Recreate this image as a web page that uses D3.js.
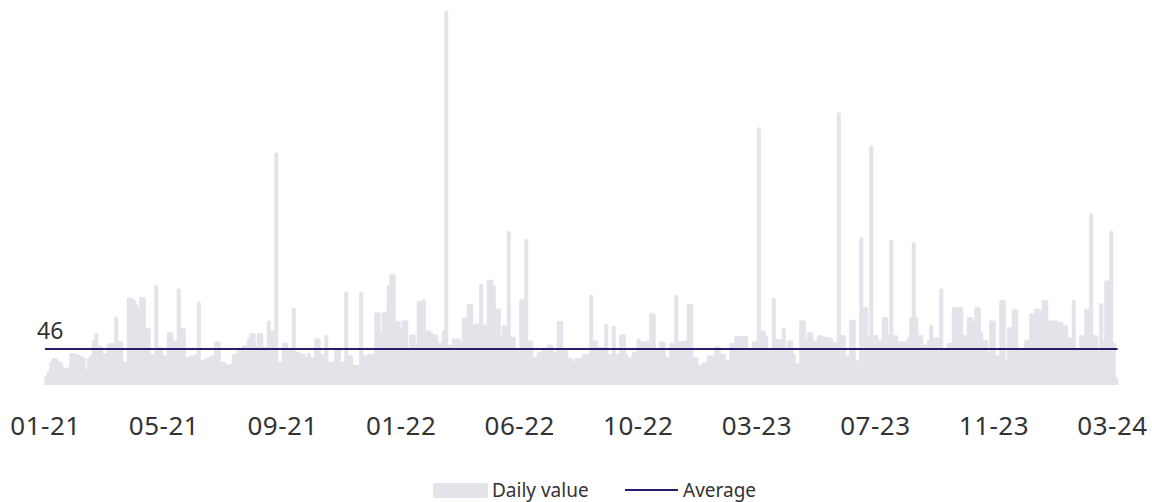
<!DOCTYPE html>
<html lang="en">
<head>
    <meta charset="UTF-8">
    <script src="https://cdnjs.cloudflare.com/ajax/libs/d3/7.8.5/d3.min.js"></script>
    <style>
        body { margin: 0; background: #fff; }
        text { font-family: "Noto Sans", sans-serif; fill: #333; }
    </style>
</head>
<body>
<div id="chart"></div>

<script>
    // daily values, one bar each
    var dailyValues = [
        12, 18, 30, 35, 34, 31, 29, 22, 21, 23,
        41, 41, 40, 39, 37, 36, 20, 35, 38, 58,
        67, 51, 50, 40, 41, 53, 54, 54, 88, 57,
        56, 30, 30, 112, 112, 109, 104, 98, 113, 113,
        73, 73, 40, 40, 128, 49, 49, 38, 38, 68,
        68, 57, 57, 124, 73, 73, 36, 36, 38, 38,
        40, 107, 32, 32, 35, 35, 38, 38, 56, 56,
        30, 30, 27, 27, 27, 40, 40, 47, 47, 51,
        51, 60, 67, 67, 50, 67, 67, 49, 49, 83,
        70, 70, 298, 30, 30, 54, 54, 45, 45, 99,
        43, 43, 40, 40, 36, 41, 36, 36, 60, 60,
        40, 40, 64, 30, 30, 30, 47, 47, 30, 30,
        120, 38, 38, 26, 26, 26, 120, 38, 38, 40,
        40, 40, 93, 93, 67, 94, 94, 128, 142, 142,
        82, 82, 73, 83, 83, 49,
        65, 65, 54, 108, 108, 110, 70, 70, 68, 65,
        65, 54, 54, 70, 479, 52, 52, 60, 60, 60,
        56, 86, 86, 104, 104, 77, 79, 79, 130, 77,
        77, 135, 135, 128, 98, 98, 64, 77, 77, 197,
        62, 62, 46, 46, 110, 110, 187, 57, 57, 36,
        36, 43, 43, 45, 45, 52, 52, 43, 43, 82,
        82, 47, 47, 35, 35, 29, 35, 35, 35, 40,
        40, 40, 116, 57, 57, 49, 49, 49, 78, 40,
        40, 76, 40, 40, 65, 65, 40, 36, 36, 43,
        43, 60, 56, 56, 57, 57, 92, 92, 45, 45,
        56, 56, 36, 36, 54, 54, 116, 56, 56, 57,
        57, 104, 104, 36, 36, 26, 26, 29, 29, 38,
        38, 38, 50, 50, 40, 40, 32, 32, 54, 54,
        63, 63, 63, 63, 63, 47, 47, 56, 56, 330,
        70, 70, 63, 45, 45, 112, 59, 59, 59, 73,
        47, 57, 57, 41, 28, 28, 83, 83, 58, 68,
        68, 57, 57, 64, 64, 62, 62, 61, 61, 55,
        55, 349, 64, 64, 38, 38, 84, 84, 32, 32,
        189, 100, 100, 64, 307, 64, 64, 58, 58, 87,
        87, 64, 186, 64, 64, 56, 56, 56, 56, 61,
        87, 183, 87, 64, 64, 52, 52, 58, 77, 61,
        61, 61, 124, 47, 47, 54, 54, 100, 100, 100,
        100, 64, 64, 87, 87, 81, 100, 100, 68, 58,
        58, 41, 83, 83, 38, 38, 109, 109, 32, 74,
        74, 97, 97, 45, 45, 45, 58, 58, 92, 92,
        98, 98, 95, 109, 109, 83, 83, 83, 83, 81,
        81, 77, 77, 61, 61, 109, 47, 47, 64, 64,
        98, 98, 220, 64, 64, 44, 105, 57, 134, 134,
        198, 54, 10
    ];
    var averageValue = 46;
    var tickLabels = ["01-21", "05-21", "09-21", "01-22", "06-22", "10-22", "03-23", "07-23", "11-23", "03-24"];
    var legendLabels = ["Daily value", "Average"];

    var barColor = "#e3e3e9";
    var lineColor = "#2a1c6c";

    var width = 1152, height = 502;
    var plotLeft = 45, plotRight = 1117.5, plotTop = 10, plotBottom = 385;

    var svg = d3.select("#chart")
        .append("svg")
        .attr("width", width)
        .attr("height", height);

    var x = d3.scaleBand()
        .domain(d3.range(dailyValues.length))
        .range([plotLeft, plotRight])
        .padding(0);

    var y = d3.scaleLinear()
        .domain([0, 480])
        .range([plotBottom, plotTop]);

    var xTicks = d3.scalePoint()
        .domain(tickLabels)
        .range([45, 1112]);

    // bars are a bit wider than their slot, tops rounded
    var barW = 4, r = 2;
    function barPath(d, i) {
        var cx = x(i) + x.bandwidth() / 2;
        var x0 = cx - barW / 2, x1 = cx + barW / 2;
        var yt = y(d);
        var rr = Math.min(r, (plotBottom - yt) / 2);
        return "M" + x0 + "," + plotBottom +
            "V" + (yt + rr) +
            "Q" + x0 + "," + yt + " " + (x0 + rr) + "," + yt +
            "H" + (x1 - rr) +
            "Q" + x1 + "," + yt + " " + x1 + "," + (yt + rr) +
            "V" + plotBottom + "Z";
    }

    svg.append("g")
        .selectAll("path")
        .data(dailyValues)
        .enter()
        .append("path")
        .attr("d", barPath)
        .attr("fill", barColor);

    svg.append("line")
        .attr("x1", plotLeft)
        .attr("x2", plotRight)
        .attr("y1", y(averageValue))
        .attr("y2", y(averageValue))
        .attr("stroke", lineColor)
        .attr("stroke-width", 2);

    svg.append("text")
        .attr("x", 37)
        .attr("y", y(averageValue) - 10)
        .style("font-size", "23px")
        .text(averageValue);

    var axis = svg.append("g")
        .attr("transform", "translate(0," + plotBottom + ")")
        .call(d3.axisBottom(xTicks).tickSize(0).tickPadding(32));
    axis.select(".domain").remove();
    axis.selectAll("text")
        .style("font-size", "26px")
        .style("font-family", "\"Noto Sans\", sans-serif")
        .style("letter-spacing", "0.5px")
        .attr("fill", "#333");

    // legend
    var legend = svg.append("g");
    legend.append("rect")
        .attr("x", 433)
        .attr("y", 483)
        .attr("width", 55)
        .attr("height", 15)
        .attr("rx", 2)
        .attr("fill", barColor);
    legend.append("text")
        .attr("x", 492)
        .attr("y", 497)
        .style("font-size", "19px")
        .text(legendLabels[0]);
    legend.append("line")
        .attr("x1", 625)
        .attr("x2", 678)
        .attr("y1", 490)
        .attr("y2", 490)
        .attr("stroke", lineColor)
        .attr("stroke-width", 2);
    legend.append("text")
        .attr("x", 683)
        .attr("y", 497)
        .style("font-size", "19px")
        .text(legendLabels[1]);
</script>
</body>
</html>
